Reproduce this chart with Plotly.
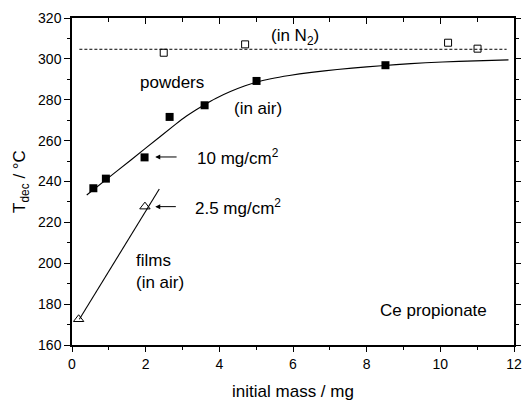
import plotly.graph_objects as go

# powders in air (filled squares)
pow_air_x = [0.58, 0.92, 1.97, 2.65, 3.6, 5.01, 8.51]
pow_air_y = [236.7, 241.4, 251.8, 271.6, 277.3, 289.2, 296.9]
# powders in N2 (open squares)
pow_n2_x = [2.49, 4.7, 10.21, 11.01]
pow_n2_y = [303.0, 307.1, 307.9, 305.0]
# films in air (open triangles)
film_x = [0.18, 1.98]
film_y = [172.6, 227.7]
# fitted curve for powders in air
fit_x = [0.4, 1.2, 2.0, 2.8, 3.1, 3.35, 3.6, 3.9, 4.3, 4.7, 5.0, 5.4, 5.9, 6.5, 7.2, 8.0, 8.8, 9.6, 10.5, 11.85]
fit_y = [233.4, 244.8, 256.3, 267.8, 271.9, 274.9, 277.6, 280.6, 284.0, 286.8, 288.6, 290.3, 291.9, 293.4, 294.8, 296.1, 297.2, 298.1, 298.8, 299.5]
# film line
film_line_x = [0.2, 2.37]
film_line_y = [172.6, 236.3]
# N2 level
n2_line_x = [0.2, 11.8]
n2_line_y = [304.7, 304.7]

FONT = "Liberation Sans, Arial, sans-serif"

fig = go.Figure()
fig.add_trace(go.Scatter(x=fit_x, y=fit_y, mode="lines", line=dict(color="black", width=1.1, shape="spline", smoothing=0.6), showlegend=False))
fig.add_trace(go.Scatter(x=film_line_x, y=film_line_y, mode="lines", line=dict(color="black", width=1.1), showlegend=False))
fig.add_trace(go.Scatter(x=n2_line_x, y=n2_line_y, mode="lines", line=dict(color="black", width=1, dash="3px,2px"), showlegend=False))
fig.add_trace(go.Scatter(x=pow_air_x, y=pow_air_y, mode="markers", marker=dict(symbol="square", size=8, color="black"), showlegend=False))
fig.add_trace(go.Scatter(x=pow_n2_x, y=pow_n2_y, mode="markers", marker=dict(symbol="square-open", size=7, color="black", line=dict(width=1)), showlegend=False))
fig.add_trace(go.Scatter(x=film_x, y=film_y, mode="markers", marker=dict(symbol="triangle-up-open", size=9, color="black", line=dict(width=1)), showlegend=False))
# invisible trace for mirror axes
fig.add_trace(go.Scatter(x=[0], y=[160], xaxis="x2", yaxis="y2", mode="markers", marker=dict(opacity=0), showlegend=False, hoverinfo="skip"))

axis_common = dict(showline=True, linecolor="black", linewidth=1.5, showgrid=False, zeroline=False, automargin=False,
                   tickcolor="black", tickwidth=1.2, tickfont=dict(family=FONT, size=14, color="black"))

fig.update_layout(
    width=525, height=401,
    margin=dict(l=72, r=11, t=18, b=56),
    plot_bgcolor="white", paper_bgcolor="white",
    xaxis=dict(range=[0, 12], tickmode="linear", tick0=0, dtick=2, ticks="outside", ticklen=5,
               minor=dict(dtick=1, ticks="outside", ticklen=3, tickcolor="black"),
               title=dict(text="initial mass / mg", font=dict(family=FONT, size=17, color="black"), standoff=18),
               **axis_common),
    yaxis=dict(range=[160, 320], tickmode="linear", tick0=160, dtick=20, ticks="outside", ticklen=6,
               minor=dict(dtick=10, ticks="outside", ticklen=3, tickcolor="black"),
               title=dict(text="T<sub>dec</sub> / °C", font=dict(family=FONT, size=17, color="black"), standoff=8),
               **axis_common),
    xaxis2=dict(range=[0, 12], overlaying="x", side="top", tickmode="linear", tick0=0, dtick=2, ticks="inside", ticklen=6,
                minor=dict(dtick=1, ticks="inside", ticklen=4, tickcolor="black"),
                showticklabels=False, **axis_common),
    yaxis2=dict(range=[160, 320], overlaying="y", side="right", tickmode="linear", tick0=160, dtick=20, ticks="outside", ticklen=5,
                minor=dict(dtick=10, ticks="outside", ticklen=3, tickcolor="black"),
                showticklabels=False, **axis_common),
)

af = dict(family=FONT, size=17, color="black")
ann = [
    dict(x=6.06, y=310.9, text="(in N<sub>2</sub>)", showarrow=False, xanchor="center", yanchor="middle"),
    dict(x=2.72, y=288.2, text="powders", showarrow=False, xanchor="center", yanchor="middle"),
    dict(x=5.04, y=275.8, text="(in air)", showarrow=False, xanchor="center", yanchor="middle"),
    dict(x=3.34, y=252.0, text="10 mg/cm<sup>2</sup>", showarrow=False, xanchor="left", yanchor="middle"),
    dict(x=3.29, y=227.7, text="2.5 mg/cm<sup>2</sup>", showarrow=False, xanchor="left", yanchor="middle"),
    dict(x=1.68, y=196.0, text="films<br>(in air)", showarrow=False, xanchor="left", yanchor="middle", align="left"),
    dict(x=9.81, y=177.1, text="Ce propionate", showarrow=False, xanchor="center", yanchor="middle"),
    dict(x=2.26, y=252.0, ax=2.88, ay=252.0, axref="x", ayref="y", text="", showarrow=True,
         arrowhead=2, arrowsize=1, arrowwidth=1, arrowcolor="black"),
    dict(x=2.26, y=227.7, ax=2.86, ay=227.7, axref="x", ayref="y", text="", showarrow=True,
         arrowhead=2, arrowsize=1, arrowwidth=1, arrowcolor="black"),
]
for a in ann:
    a["font"] = af
    a["xref"] = "x"
    a["yref"] = "y"
fig.update_layout(annotations=ann)

fig.write_html("out.html")
